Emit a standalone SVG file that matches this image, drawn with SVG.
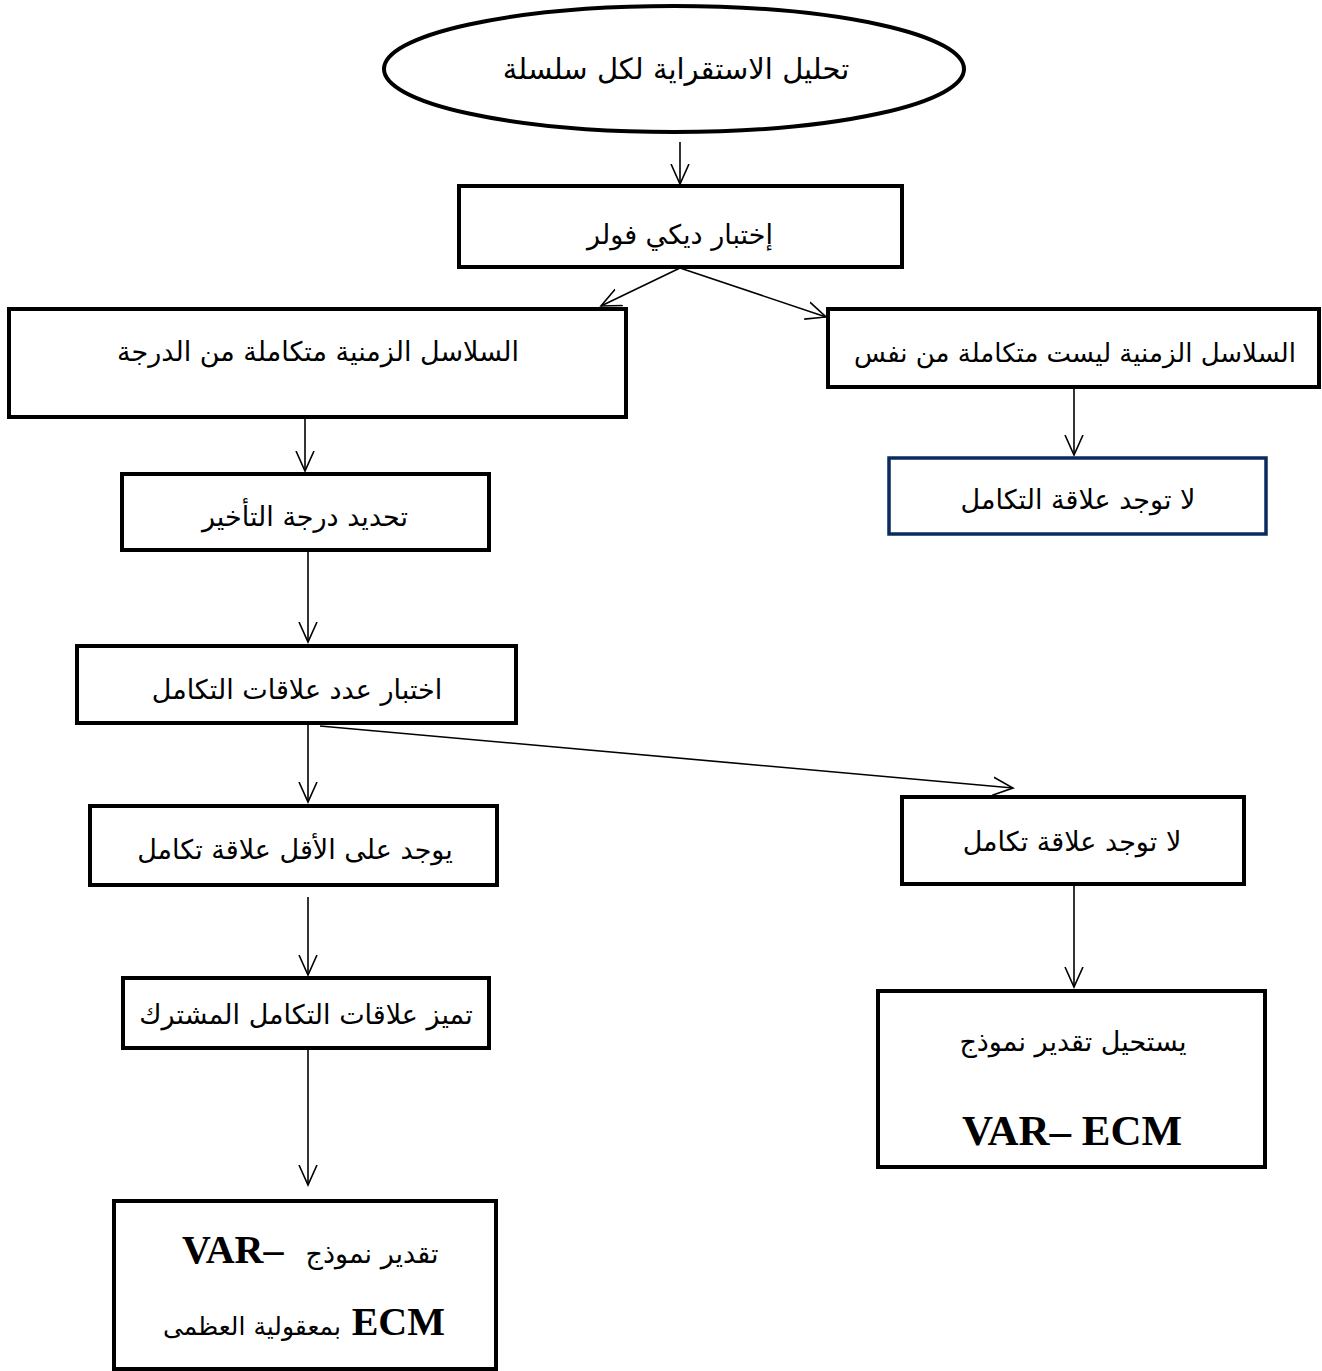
<svg xmlns="http://www.w3.org/2000/svg" width="1322" height="1371" viewBox="0 0 1322 1371">
<style>
.box{fill:#fff;stroke:#000;stroke-width:4}
.blue{fill:#fff;stroke:#0b2a5e;stroke-width:3.5}
.ar{font-family:"DejaVu Sans",sans-serif;font-size:27px;fill:#000;text-anchor:middle;direction:rtl}
.lat{font-family:"Liberation Serif",serif;font-size:40px;font-weight:bold;fill:#000}
.con{stroke:#000;stroke-width:1.6;fill:none;marker-end:url(#arr)}
</style>
<defs>
<marker id="arr" markerUnits="userSpaceOnUse" markerWidth="24" markerHeight="24" refX="20" refY="10" orient="auto" viewBox="0 0 24 20">
<path d="M0,1 L20,10 L0,19" fill="none" stroke="#000" stroke-width="1.6"/>
</marker>
</defs>
<g id="connectors">
<line class="con" x1="680" y1="142" x2="680" y2="184"/>
<line class="con" x1="680" y1="268" x2="601" y2="306"/>
<line class="con" x1="680" y1="268" x2="826" y2="317"/>
<line class="con" x1="305" y1="418" x2="305" y2="471"/>
<line class="con" x1="1074" y1="388" x2="1074" y2="455"/>
<line class="con" x1="308" y1="551" x2="308" y2="642"/>
<line class="con" x1="308" y1="724" x2="308" y2="802"/>
<line class="con" x1="320" y1="726" x2="1013" y2="788"/>
<line class="con" x1="308" y1="897" x2="308" y2="975"/>
<line class="con" x1="1074" y1="885" x2="1074" y2="987"/>
<line class="con" x1="308" y1="1049" x2="308" y2="1185"/>
</g>
<g id="n1"><ellipse class="box" cx="674" cy="69" rx="290" ry="63"/><text class="ar" x="676" y="79" style="font-size:29px">تحليل الاستقراية لكل سلسلة</text></g>
<g id="n2"><rect class="box" x="459" y="186" width="443" height="81"/><text class="ar" x="680" y="244">إختبار ديكي فولر</text></g>
<g id="n3"><rect class="box" x="9" y="309" width="617" height="108"/><text class="ar" x="318" y="361">السلاسل الزمنية متكاملة من الدرجة</text></g>
<g id="n4"><rect class="box" x="828" y="309" width="491" height="78"/><text class="ar" x="1075" y="362" style="font-size:26px">السلاسل الزمنية ليست متكاملة من نفس</text></g>
<g id="n5"><rect class="blue" x="889" y="458" width="377" height="76"/><text class="ar" x="1078" y="509">لا توجد علاقة التكامل</text></g>
<g id="n6"><rect class="box" x="122" y="474" width="367" height="76"/><text class="ar" x="305" y="526">تحديد درجة التأخير</text></g>
<g id="n7"><rect class="box" x="77" y="646" width="439" height="77"/><text class="ar" x="297" y="699">اختبار عدد علاقات التكامل</text></g>
<g id="n8"><rect class="box" x="90" y="806" width="407" height="79"/><text class="ar" x="295" y="859">يوجد على الأقل علاقة تكامل</text></g>
<g id="n9"><rect class="box" x="902" y="797" width="342" height="87"/><text class="ar" x="1072" y="851">لا توجد علاقة تكامل</text></g>
<g id="n10"><rect class="box" x="878" y="991" width="387" height="176"/><text class="ar" x="1073" y="1051">يستحيل تقدير نموذج</text><text class="lat" x="1072" y="1145" text-anchor="middle" style="font-size:43px">VAR– ECM</text></g>
<g id="n11"><rect class="box" x="123" y="978" width="366" height="70"/><text class="ar" x="306" y="1024">تميز علاقات التكامل المشترك</text></g>
<g id="n12"><rect class="box" x="114" y="1201" width="382" height="168"/>
<text class="lat" x="182" y="1263">VAR–</text>
<text class="ar" x="372" y="1263">تقدير نموذج</text>
<text class="ar" x="252" y="1335" style="font-size:25px">بمعقولية العظمى</text>
<text class="lat" x="445" y="1335" text-anchor="end">ECM</text>
</g>
</svg>
